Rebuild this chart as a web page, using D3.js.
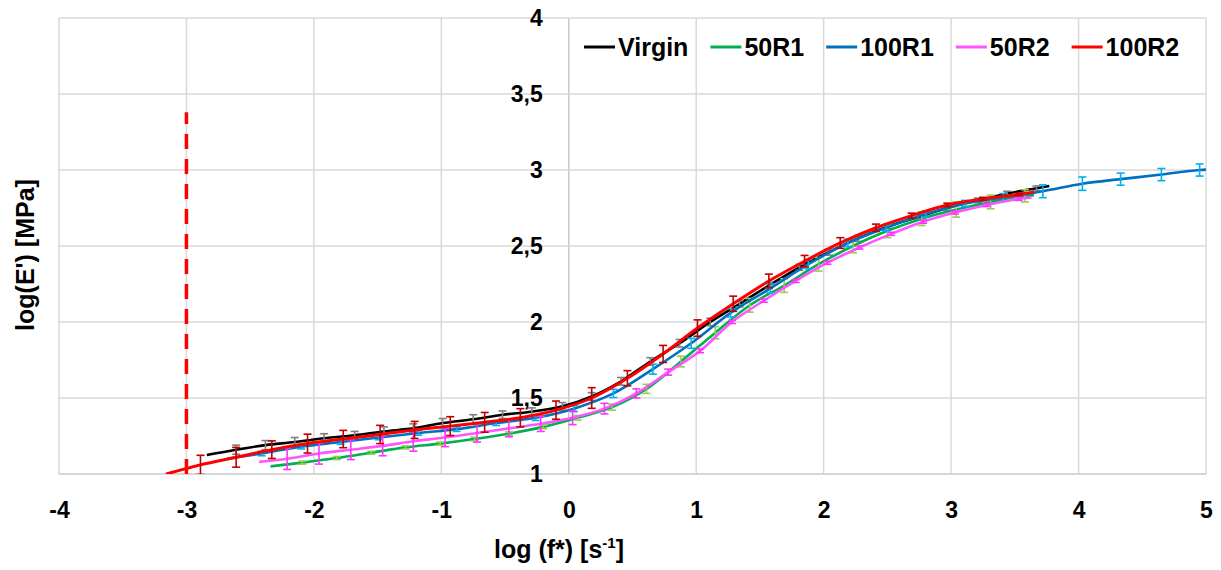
<!DOCTYPE html>
<html>
<head>
<meta charset="utf-8">
<title>log(E') - log(f*)</title>
<script src="https://cdn.jsdelivr.net/npm/d3@7/dist/d3.min.js"></script>
<style>
  body { margin: 0; background: #fff; }
  text { font-family: "Liberation Sans", Arial, sans-serif; font-weight: bold; fill: #000; }
</style>
</head>
<body>
<div id="chart"></div>
<script>
// ---- data ----
var xTicks = [-4, -3, -2, -1, 0, 1, 2, 3, 4, 5];
var yTicks = [1, 1.5, 2, 2.5, 3, 3.5, 4];

var seriesNames = ["Virgin", "50R1", "100R1", "50R2", "100R2"];

var virginX = [-2.84, -2.61, -2.38, -2.15, -1.92, -1.68, -1.45, -1.22, -0.99, -0.75, -0.52, -0.29, -0.05, 0.18, 0.41, 0.64, 0.87, 1.11, 1.34, 1.57, 1.81, 2.04, 2.27, 2.51, 2.74, 2.97, 3.21, 3.44, 3.67, 3.77];
var virginY = [1.125, 1.16, 1.19, 1.21, 1.235, 1.255, 1.28, 1.30, 1.335, 1.36, 1.39, 1.41, 1.445, 1.51, 1.61, 1.74, 1.86, 2.00, 2.12, 2.24, 2.36, 2.46, 2.55, 2.63, 2.69, 2.75, 2.80, 2.845, 2.88, 2.895];
var virginErr = [0, 0.03, 0.03, 0.03, 0.03, 0.025, 0.03, 0.03, 0.03, 0.03, 0.025, 0.025, 0.025, 0.025, 0.025, 0.025, 0.025, 0.025, 0.02, 0.02, 0.02, 0.02, 0.02, 0.015, 0.015, 0.015, 0.015, 0.015, 0.015, 0];

var r50_1X = [-2.34, -2.09, -1.82, -1.55, -1.28, -1.01, -0.74, -0.47, -0.20, 0.07, 0.34, 0.61, 0.88, 1.15, 1.42, 1.69, 1.96, 2.23, 2.50, 2.77, 3.04, 3.31, 3.58, 3.65];
var r50_1Y = [1.05, 1.075, 1.105, 1.14, 1.175, 1.20, 1.23, 1.265, 1.31, 1.37, 1.44, 1.56, 1.74, 1.93, 2.11, 2.24, 2.38, 2.50, 2.60, 2.68, 2.74, 2.79, 2.83, 2.835];
var r50_1Err = [0, 0.01, 0.01, 0.01, 0.01, 0.01, 0.012, 0.012, 0.012, 0.015, 0.02, 0.03, 0.035, 0.04, 0.045, 0.045, 0.045, 0.045, 0.045, 0.045, 0.05, 0.045, 0.04, 0];

var r100_1X = [-2.68, -2.41, -2.10, -1.79, -1.49, -1.18, -0.88, -0.57, -0.26, 0.04, 0.35, 0.66, 0.96, 1.27, 1.58, 1.88, 2.19, 2.49, 2.80, 3.11, 3.41, 3.72, 4.03, 4.33, 4.65, 4.95, 5.05];
var r100_1Y = [1.10, 1.135, 1.18, 1.21, 1.24, 1.27, 1.295, 1.335, 1.37, 1.43, 1.53, 1.69, 1.86, 2.06, 2.22, 2.38, 2.52, 2.62, 2.71, 2.78, 2.82, 2.86, 2.91, 2.94, 2.97, 3.00, 3.005];
var r100_1Err = [0, 0.015, 0.015, 0.015, 0.015, 0.015, 0.015, 0.016, 0.018, 0.02, 0.027, 0.033, 0.033, 0.027, 0.03, 0.03, 0.025, 0.02, 0.02, 0.02, 0.025, 0.042, 0.044, 0.04, 0.04, 0.04, 0];

var r50_2X = [-2.43, -2.21, -1.96, -1.71, -1.46, -1.22, -0.97, -0.72, -0.47, -0.22, 0.03, 0.28, 0.53, 0.78, 1.03, 1.28, 1.53, 1.78, 2.03, 2.28, 2.53, 2.78, 3.03, 3.28, 3.53, 3.63];
var r50_2Y = [1.08, 1.10, 1.135, 1.16, 1.185, 1.215, 1.24, 1.27, 1.30, 1.33, 1.37, 1.43, 1.53, 1.67, 1.81, 2.00, 2.14, 2.27, 2.39, 2.49, 2.58, 2.66, 2.72, 2.77, 2.81, 2.82];
var r50_2Err = [0, 0.07, 0.07, 0.065, 0.065, 0.065, 0.06, 0.06, 0.055, 0.05, 0.045, 0.035, 0.03, 0.02, 0.012, 0.01, 0.01, 0.01, 0.01, 0.01, 0.01, 0.01, 0.01, 0.01, 0.01, 0];

var r100_2X = [-3.16, -2.89, -2.61, -2.33, -2.05, -1.77, -1.48, -1.21, -0.93, -0.66, -0.38, -0.10, 0.18, 0.46, 0.74, 1.01, 1.29, 1.57, 1.85, 2.13, 2.41, 2.69, 2.97, 3.25, 3.53, 3.65];
var r100_2Y = [1.00, 1.06, 1.11, 1.16, 1.20, 1.23, 1.26, 1.29, 1.315, 1.34, 1.37, 1.42, 1.50, 1.63, 1.79, 1.96, 2.12, 2.27, 2.40, 2.52, 2.62, 2.70, 2.77, 2.81, 2.84, 2.855];
var r100_2Err = [0, 0.063, 0.065, 0.058, 0.062, 0.057, 0.06, 0.056, 0.062, 0.065, 0.06, 0.06, 0.068, 0.05, 0.056, 0.054, 0.05, 0.045, 0.038, 0.035, 0.024, 0.016, 0.012, 0.01, 0.008, 0];

// red dashed marker at log f* = -3
var markerX = -3;
var markerTop = 3.38;

// ---- drawing ----
var width = 1221;
var height = 570;

var lineColors = ["#000000", "#00b050", "#0070c0", "#ff55ff", "#ff0000"];
var barColors = ["#7f7f7f", "#92d050", "#00b0f0", "#ff33ff", "#c00000"];

var x = d3.scaleLinear().domain([-4, 5]).range([59, 1206]);
var y = d3.scaleLinear().domain([1, 4]).range([474, 18]);

var svg = d3.select("#chart").append("svg")
    .attr("width", width)
    .attr("height", height);

svg.append("defs").append("clipPath").attr("id", "plotClip")
    .append("rect")
    .attr("x", x(-4)).attr("y", y(4))
    .attr("width", x(5) - x(-4)).attr("height", y(1) - y(4));

// grid
var grid = svg.append("g");
grid.selectAll("line.v").data(xTicks).enter().append("line")
    .attr("class", "v")
    .attr("x1", function (d) { return x(d); })
    .attr("x2", function (d) { return x(d); })
    .attr("y1", y(1)).attr("y2", y(4))
    .style("stroke", function (d) { return d == 0 ? "#c8c8c8" : "#d9d9d9"; })
    .style("stroke-width", 1.5);
grid.selectAll("line.h").data(yTicks).enter().append("line")
    .attr("class", "h")
    .attr("x1", x(-4)).attr("x2", x(5))
    .attr("y1", function (d) { return y(d); })
    .attr("y2", function (d) { return y(d); })
    .style("stroke", function (d) { return d == 1 ? "#c8c8c8" : "#d9d9d9"; })
    .style("stroke-width", 1.5);

// axes (labels only)
var xAxis = d3.axisBottom(x).tickValues(xTicks).tickSize(0).tickPadding(28)
    .tickFormat(function (d) { return String(d); });
var gx = svg.append("g").attr("transform", "translate(0," + y(1) + ")").call(xAxis);
gx.select(".domain").remove();
gx.selectAll("text").style("font-size", "23px").style("font-family", null);

var yAxis = d3.axisLeft(y).tickValues(yTicks).tickSize(0).tickPadding(26)
    .tickFormat(function (d) { return String(d).replace(".", ","); });
var gy = svg.append("g").attr("transform", "translate(" + x(0) + ",0)").call(yAxis);
gy.select(".domain").remove();
gy.selectAll("text").style("font-size", "23px").style("font-family", null);

// axis titles
var xt = svg.append("text")
    .attr("x", 559).attr("y", 558)
    .attr("text-anchor", "middle")
    .style("font-size", "25px");
xt.append("tspan").text("log (f*) [s");
xt.append("tspan").text("-1").style("font-size", "15px").attr("dy", -10);
xt.append("tspan").text("]").attr("dy", 10);

svg.append("text")
    .attr("transform", "translate(34,255) rotate(-90)")
    .attr("text-anchor", "middle")
    .style("font-size", "25px")
    .text("log(E') [MPa]");

// marker line
svg.append("line")
    .attr("x1", x(markerX)).attr("x2", x(markerX))
    .attr("y1", y(1)).attr("y2", y(markerTop))
    .style("stroke", "#ff0000")
    .style("stroke-width", 3.5)
    .style("stroke-dasharray", "15,10");

// series
var allX = [virginX, r50_1X, r100_1X, r50_2X, r100_2X];
var allY = [virginY, r50_1Y, r100_1Y, r50_2Y, r100_2Y];
var allErr = [virginErr, r50_1Err, r100_1Err, r50_2Err, r100_2Err];

var series = seriesNames.map(function (name, i) {
    return {
        name: name,
        points: allX[i].map(function (v, j) {
            return { x: v, y: allY[i][j], e: allErr[i][j] };
        })
    };
});

var line = d3.line()
    .x(function (d) { return x(d.x); })
    .y(function (d) { return y(d.y); })
    .curve(d3.curveMonotoneX);

var plot = svg.append("g").attr("clip-path", "url(#plotClip)");

series.forEach(function (s, i) {
    var g = plot.append("g");
    g.append("path")
        .datum(s.points)
        .attr("d", line)
        .style("fill", "none")
        .style("stroke", lineColors[i])
        .style("stroke-width", i == 4 ? 3 : 2.6);

    var bars = g.selectAll("g.bar")
        .data(s.points.filter(function (p) { return p.e > 0; }))
        .enter().append("g").attr("class", "bar")
        .style("stroke", barColors[i])
        .style("stroke-width", 1.6);
    bars.append("line")
        .attr("x1", function (d) { return x(d.x); })
        .attr("x2", function (d) { return x(d.x); })
        .attr("y1", function (d) { return y(d.y - d.e); })
        .attr("y2", function (d) { return y(d.y + d.e); });
    bars.append("line")
        .attr("x1", function (d) { return x(d.x) - 4; })
        .attr("x2", function (d) { return x(d.x) + 4; })
        .attr("y1", function (d) { return y(d.y + d.e); })
        .attr("y2", function (d) { return y(d.y + d.e); });
    bars.append("line")
        .attr("x1", function (d) { return x(d.x) - 4; })
        .attr("x2", function (d) { return x(d.x) + 4; })
        .attr("y1", function (d) { return y(d.y - d.e); })
        .attr("y2", function (d) { return y(d.y - d.e); });
});

// legend
var legend = svg.append("g");
var lx = 584;
seriesNames.forEach(function (name, i) {
    legend.append("line")
        .attr("x1", lx).attr("x2", lx + 31)
        .attr("y1", 47).attr("y2", 47)
        .style("stroke", lineColors[i])
        .style("stroke-width", 3);
    var t = legend.append("text")
        .attr("x", lx + 34).attr("y", 56)
        .style("font-size", "25px")
        .text(name);
    lx = lx + 34 + t.node().getComputedTextLength() + 22;
});
</script>
</body>
</html>
